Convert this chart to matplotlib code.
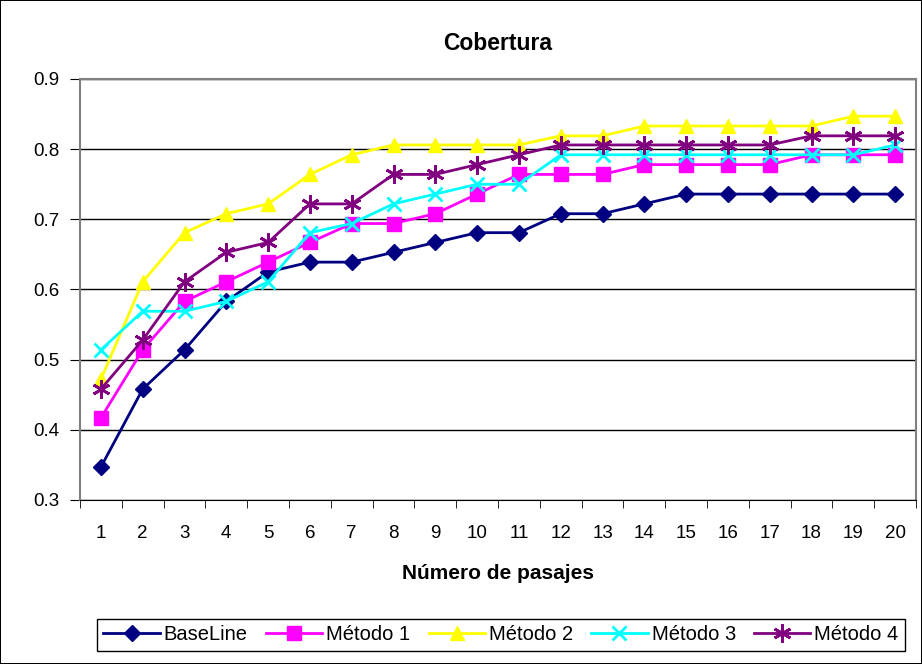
import matplotlib.pyplot as plt
import numpy as np

plt.rcParams['font.family'] = ['Liberation Sans', 'DejaVu Sans']

pasajes = list(range(1, 21))
baseline = [0.347, 0.458, 0.514, 0.583, 0.625, 0.639, 0.639, 0.653, 0.667, 0.681,
            0.681, 0.708, 0.708, 0.722, 0.736, 0.736, 0.736, 0.736, 0.736, 0.736]
metodo1 = [0.417, 0.514, 0.583, 0.611, 0.639, 0.667, 0.694, 0.694, 0.708, 0.736,
           0.764, 0.764, 0.764, 0.778, 0.778, 0.778, 0.778, 0.792, 0.792, 0.792]
metodo2 = [0.472, 0.611, 0.681, 0.708, 0.722, 0.764, 0.792, 0.806, 0.806, 0.806,
           0.806, 0.819, 0.819, 0.833, 0.833, 0.833, 0.833, 0.833, 0.847, 0.847]
metodo3 = [0.514, 0.569, 0.569, 0.583, 0.611, 0.681, 0.694, 0.722, 0.736, 0.750,
           0.750, 0.792, 0.792, 0.792, 0.792, 0.792, 0.792, 0.792, 0.792, 0.806]
metodo4 = [0.458, 0.528, 0.611, 0.653, 0.667, 0.722, 0.722, 0.764, 0.764, 0.778,
           0.792, 0.806, 0.806, 0.806, 0.806, 0.806, 0.806, 0.819, 0.819, 0.819]

fig = plt.figure(figsize=(9.22, 6.64), dpi=100, linewidth=1.2, edgecolor='black')
ax = fig.add_axes([80/922, 1 - 500/664, 836/922, 421/664])

ax.plot(pasajes, baseline, color='#000080', marker='D', markersize=8, lw=2, label='BaseLine')
ax.plot(pasajes, metodo1, color='#FF00FF', marker='s', markersize=10, lw=2, label='Método 1')
ax.plot(pasajes, metodo2, color='#FFFF00', marker='^', markersize=10, lw=2, label='Método 2')
ax.plot(pasajes, metodo3, color='#00FFFF', marker='x', markersize=10, mew=2, lw=2, label='Método 3')
ax.plot(pasajes, metodo4, color='#800080', marker=(6, 2, 0), markersize=13, mew=2, lw=2, label='Método 4')

ax.set_xlim(0.5, 20.5)
ax.set_ylim(0.3, 0.9)
ax.set_yticks(np.arange(0.3, 0.91, 0.1))
ax.set_yticklabels(['0.3', '0.4', '0.5', '0.6', '0.7', '0.8', '0.9'])
ax.set_xticks(pasajes)
ax.set_xticks(np.arange(0.5, 21, 1), minor=True)
ax.tick_params(axis='x', which='major', length=0, pad=18, labelsize=13.5)
ax.tick_params(axis='x', which='minor', length=6, direction='out', color='black')
ax.tick_params(axis='y', length=7, direction='out', labelsize=13.5, pad=8)
ax.grid(axis='y', color='black', lw=1)
ax.set_axisbelow(True)

for side in ['top', 'right', 'left']:
    ax.spines[side].set_color('#808080')
    ax.spines[side].set_linewidth(1.5)
ax.spines['bottom'].set_color('black')

ax.set_title('Cobertura', fontsize=16.5, fontweight='bold', pad=21)
ax.set_xlabel('Número de pasajes', fontsize=15, fontweight='bold', labelpad=16)

fig.legend(loc='center', bbox_to_anchor=(501/922, 1 - 635/664), ncol=5, fontsize=14.5,
           frameon=True, fancybox=False, edgecolor='black', framealpha=1,
           handlelength=2.8, handletextpad=0.2, columnspacing=0.9, borderpad=0.3)

fig.savefig('out.png', dpi=100)
